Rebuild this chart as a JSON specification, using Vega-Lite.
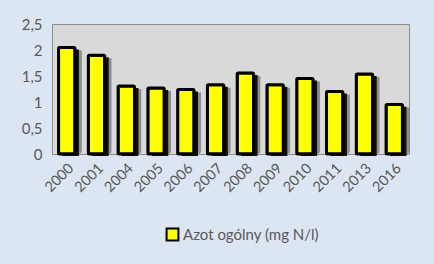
{
  "$schema": "https://vega.github.io/schema/vega-lite/v6.json",
  "width": 357,
  "height": 130,
  "autosize": {"type": "none"},
  "padding": {"left": 52, "top": 24, "right": 25, "bottom": 110},
  "background": "#dce6f2",
  "config": {
    "font": "Lato",
    "locale": {"number": {"decimal": ",", "thousands": " ", "grouping": [3], "currency": ["", " zł"]}},
    "view": {"fill": "#d9d9d9", "stroke": "#8c8c8c", "strokeWidth": 1},
    "axis": {"labelColor": "#595959", "labelFont": "Lato", "grid": false, "ticks": false, "domain": false}
  },
  "data": {
    "values": [
      {"year": "2000", "value": 2.05, "series": "Azot ogólny (mg N/l)"},
      {"year": "2001", "value": 1.9, "series": "Azot ogólny (mg N/l)"},
      {"year": "2004", "value": 1.31, "series": "Azot ogólny (mg N/l)"},
      {"year": "2005", "value": 1.27, "series": "Azot ogólny (mg N/l)"},
      {"year": "2006", "value": 1.24, "series": "Azot ogólny (mg N/l)"},
      {"year": "2007", "value": 1.33, "series": "Azot ogólny (mg N/l)"},
      {"year": "2008", "value": 1.56, "series": "Azot ogólny (mg N/l)"},
      {"year": "2009", "value": 1.33, "series": "Azot ogólny (mg N/l)"},
      {"year": "2010", "value": 1.45, "series": "Azot ogólny (mg N/l)"},
      {"year": "2011", "value": 1.2, "series": "Azot ogólny (mg N/l)"},
      {"year": "2013", "value": 1.54, "series": "Azot ogólny (mg N/l)"},
      {"year": "2016", "value": 0.95, "series": "Azot ogólny (mg N/l)"}
    ]
  },
  "encoding": {
    "x": {
      "field": "year", "type": "ordinal", "title": null,
      "scale": {"paddingInner": 0.45, "paddingOuter": 0.22},
      "axis": {"labelAngle": -45, "labelFontSize": 14.5, "labelPadding": 7}
    },
    "y": {
      "field": "value", "type": "quantitative", "title": null,
      "scale": {"domain": [0, 2.5], "nice": false},
      "axis": {"values": [0, 0.5, 1, 1.5, 2, 2.5], "format": "~r", "labelFontSize": 15, "labelPadding": 10}
    }
  },
  "layer": [
    {
      "mark": {"type": "bar", "color": "#000000", "opacity": 0.35, "xOffset": 7, "yOffset": 3, "cornerRadius": 3}
    },
    {
      "mark": {"type": "bar", "color": "#000000", "opacity": 0.9, "xOffset": 4, "yOffset": 2}
    },
    {
      "mark": {"type": "bar", "stroke": "#000000", "strokeWidth": 3, "cornerRadius": 1},
      "encoding": {
        "color": {
          "field": "series", "type": "nominal",
          "scale": {"range": ["#ffff00"]},
          "legend": {
            "title": null, "orient": "none", "legendX": 113, "legendY": 203,
            "symbolType": "square", "symbolSize": 140, "symbolStrokeColor": "#000000", "symbolStrokeWidth": 2,
            "labelFontSize": 15, "labelColor": "#595959", "labelFont": "Lato", "labelOffset": 3
          }
        }
      }
    }
  ]
}
